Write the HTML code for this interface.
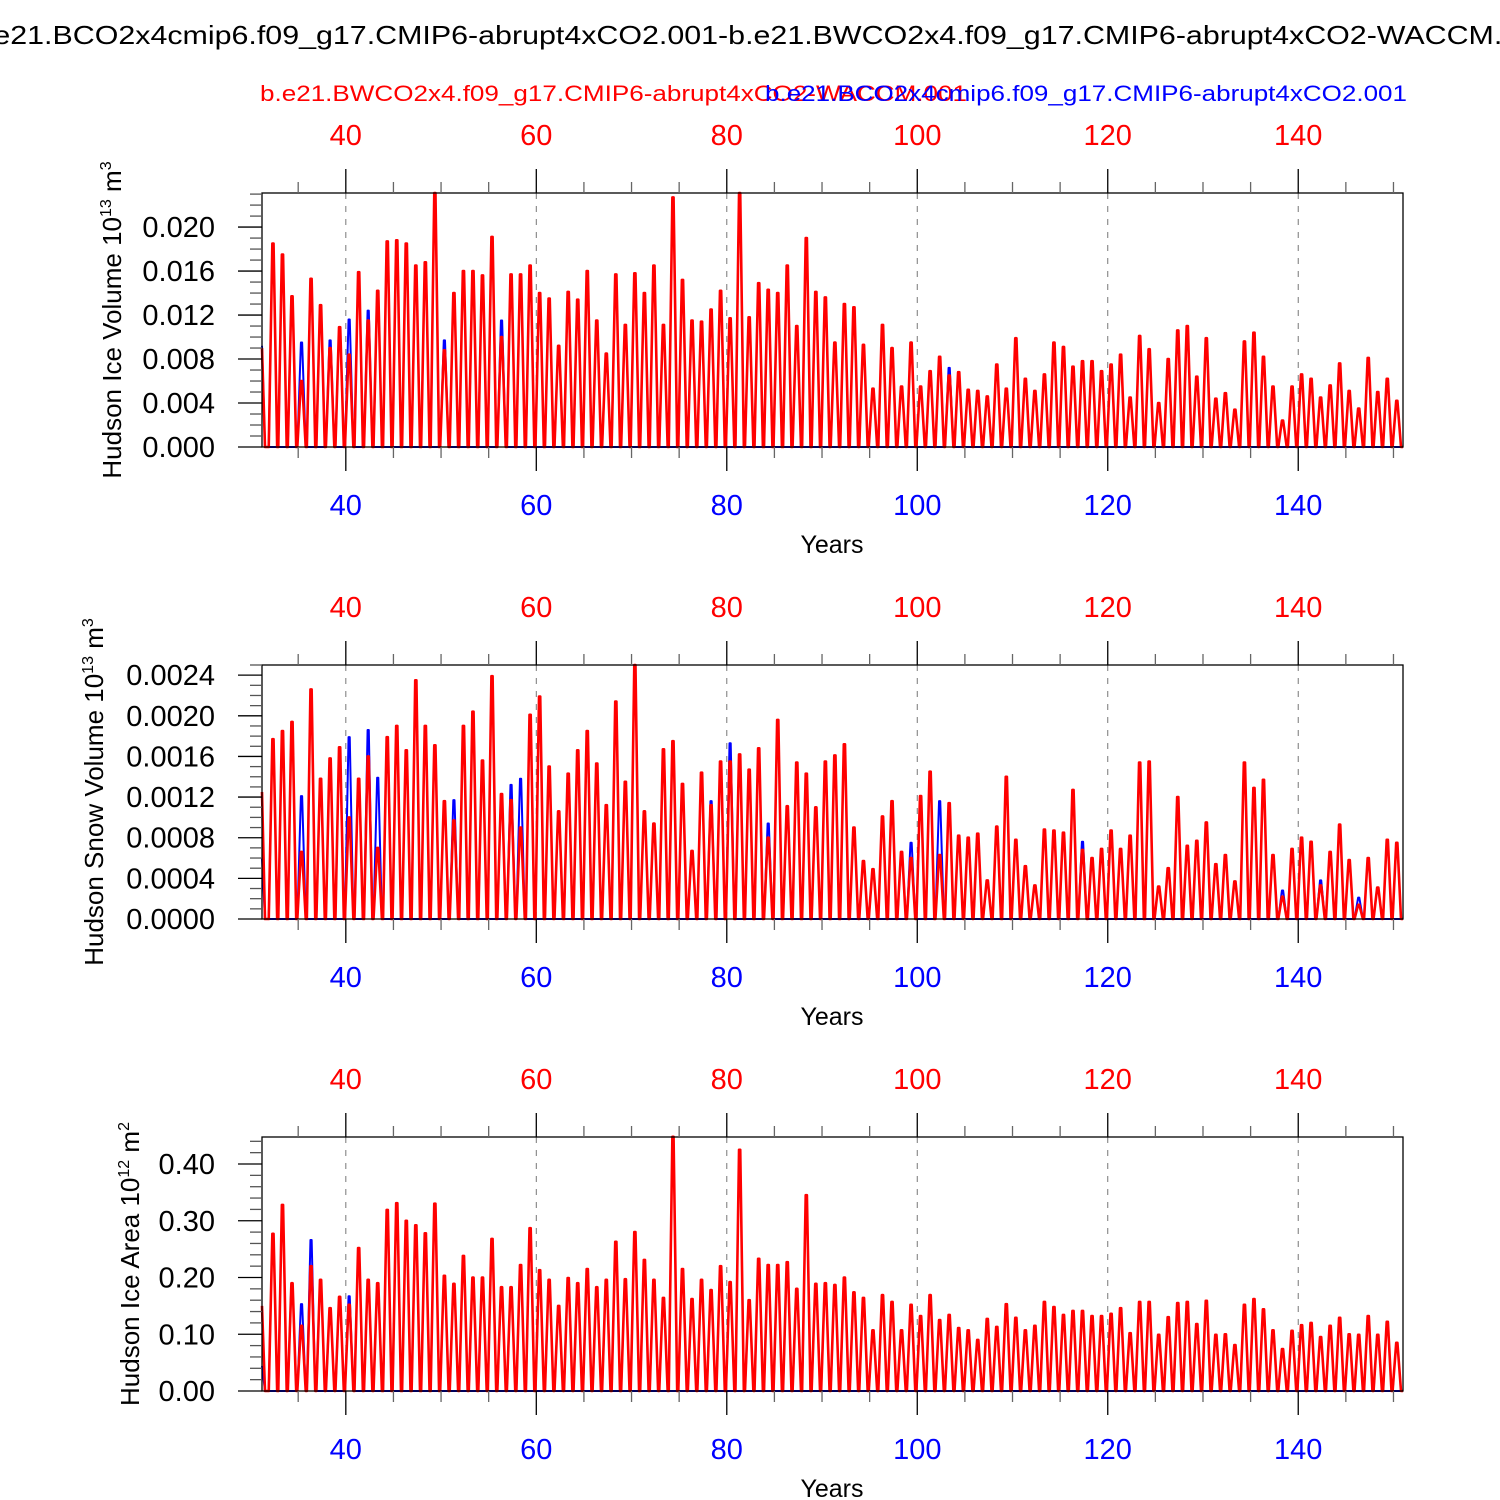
<!DOCTYPE html>
<html><head><meta charset="utf-8"><style>
html,body{margin:0;padding:0;background:#fff;}
svg{display:block;font-family:"Liberation Sans",sans-serif;}
</style></head><body>
<svg id="chart" width="1500" height="1500" viewBox="0 0 1500 1500">
<text x="-32" y="44" font-size="26" textLength="1585" lengthAdjust="spacingAndGlyphs">b.e21.BCO2x4cmip6.f09_g17.CMIP6-abrupt4xCO2.001-b.e21.BWCO2x4.f09_g17.CMIP6-abrupt4xCO2-WACCM.001</text>
<text x="260" y="101" font-size="22" fill="#f00" textLength="707" lengthAdjust="spacingAndGlyphs">b.e21.BWCO2x4.f09_g17.CMIP6-abrupt4xCO2-WACCM.001</text>
<text x="765" y="101" font-size="22" fill="#00f" textLength="642" lengthAdjust="spacingAndGlyphs">b.e21.BCO2x4cmip6.f09_g17.CMIP6-abrupt4xCO2.001</text>
</svg>
<script>
const xTicks = [40, 60, 80, 100, 120, 140];
const yearStart = 31.2, yearEnd = 151.0, firstPeakYear = 32.35;
const iceVolRed = [0.0185,0.0175,0.0137,0.006,0.0153,0.0129,0.009,0.0109,0.0084,0.0159,0.0115,0.0142,0.0187,0.0188,0.0185,0.0165,0.0168,0.0231,0.0088,0.014,0.016,0.016,0.0156,0.0191,0.010,0.0157,0.0157,0.0165,0.014,0.0135,0.0092,0.0141,0.0134,0.016,0.0115,0.0085,0.0157,0.0111,0.0158,0.014,0.0165,0.0111,0.0227,0.0152,0.0115,0.0114,0.0125,0.0142,0.0117,0.0231,0.0118,0.0149,0.0143,0.014,0.0165,0.011,0.019,0.0141,0.0136,0.0095,0.013,0.0127,0.0093,0.0053,0.0111,0.009,0.0055,0.0095,0.0055,0.0069,0.0082,0.0065,0.0068,0.0052,0.0051,0.0046,0.0075,0.0053,0.0099,0.0062,0.0051,0.0066,0.0095,0.0091,0.0073,0.0078,0.0078,0.0069,0.0075,0.0084,0.0045,0.0101,0.0089,0.004,0.008,0.0106,0.011,0.0064,0.0099,0.0044,0.0049,0.0034,0.0096,0.0104,0.0082,0.0055,0.0024,0.0055,0.0066,0.0062,0.0045,0.0056,0.0076,0.0051,0.0035,0.0081,0.005,0.0062,0.0042];
const iceVolBlue = [0.007,0.006,0.008,0.0095,0.007,0.006,0.0097,0.006,0.0116,0.007,0.0124,0.006,0.007,0.006,0.006,0.005,0.006,0.007,0.0097,0.005,0.005,0.006,0.005,0.006,0.0115,0.005,0.005,0.006,0.005,0.004,0.004,0.005,0.004,0.005,0.004,0.004,0.005,0.004,0.005,0.004,0.006,0.004,0.005,0.004,0.003,0.003,0.004,0.004,0.004,0.005,0.004,0.004,0.004,0.004,0.0045,0.003,0.006,0.003,0.003,0.003,0.003,0.003,0.002,0.002,0.003,0.003,0.002,0.003,0.002,0.0025,0.003,0.0072,0.002,0.0015,0.0015,0.0015,0.002,0.0015,0.002,0.0015,0.0015,0.0015,0.002,0.002,0.001,0.001,0.0015,0.0015,0.0015,0.002,0.001,0.0023,0.0015,0.001,0.0015,0.001,0.001,0.0008,0.0008,0.0008,0.0008,0.0008,0.0015,0.0015,0.0008,0.0008,0.0008,0.0015,0.0014,0.001,0.0012,0.001,0.0015,0.001,0.001,0.0015,0.0008,0.0008,0.0008];
const snowVolRed = [0.00177,0.00185,0.00194,0.00066,0.00226,0.00138,0.00158,0.00169,0.001,0.00138,0.0016,0.0007,0.00179,0.0019,0.00166,0.00235,0.0019,0.00171,0.00116,0.00097,0.0019,0.00204,0.00156,0.00239,0.00123,0.00117,0.0009,0.00201,0.00219,0.0015,0.00106,0.00143,0.00166,0.00185,0.00153,0.00112,0.00214,0.00135,0.0025,0.00106,0.00094,0.00167,0.00175,0.00133,0.00067,0.00144,0.00112,0.00155,0.00155,0.00162,0.00147,0.00168,0.0008,0.00196,0.00111,0.00154,0.00143,0.0011,0.00155,0.00161,0.00172,0.0009,0.00057,0.00049,0.00101,0.00116,0.00066,0.0006,0.00121,0.00145,0.00063,0.00114,0.00082,0.0008,0.00084,0.00038,0.00091,0.0014,0.00078,0.00052,0.00033,0.00088,0.00087,0.00085,0.00127,0.00068,0.0006,0.00069,0.00087,0.00069,0.00082,0.00154,0.00155,0.00032,0.0005,0.0012,0.00072,0.00077,0.00095,0.00054,0.00063,0.00037,0.00154,0.00129,0.00137,0.00063,0.00022,0.00069,0.0008,0.00076,0.00033,0.00066,0.00093,0.00058,0.00014,0.0006,0.00031,0.00078,0.00075];
const snowVolBlue = [0.0008,0.0006,0.0005,0.00121,0.0009,0.0005,0.0007,0.0006,0.00179,0.0005,0.00186,0.00139,0.0005,0.0005,0.0004,0.0006,0.0005,0.0005,0.0004,0.00117,0.0005,0.0005,0.0004,0.0005,0.0004,0.00132,0.00138,0.0005,0.0004,0.0004,0.0003,0.0004,0.0004,0.0005,0.0004,0.0003,0.0005,0.0004,0.0005,0.0003,0.0003,0.0004,0.0005,0.0004,0.0003,0.0004,0.00116,0.0004,0.00173,0.0004,0.0004,0.0004,0.00094,0.0004,0.0003,0.0004,0.0004,0.0003,0.0003,0.0003,0.0003,0.0002,0.0002,0.0002,0.0002,0.0003,0.0002,0.00075,0.0002,0.0002,0.00116,0.0002,0.0002,0.0002,0.0002,0.0001,0.0002,0.0002,0.0002,0.0001,0.0001,0.0002,0.0002,0.0002,0.0002,0.00076,0.0001,0.0001,0.0002,0.0001,0.0002,0.0002,0.0002,0.0001,0.0001,0.0002,0.0001,0.0002,0.0002,0.0001,0.0001,0.0001,0.0002,0.0002,0.0002,0.0001,0.00028,0.0002,0.0002,0.0002,0.00038,0.0001,0.0002,0.0001,0.00021,0.0001,0.0001,0.0002,0.0002];
const iceAreaRed = [0.277,0.328,0.19,0.115,0.22,0.196,0.146,0.166,0.152,0.252,0.196,0.19,0.319,0.331,0.3,0.292,0.278,0.33,0.203,0.189,0.238,0.2,0.2,0.268,0.183,0.183,0.222,0.287,0.213,0.196,0.15,0.199,0.19,0.215,0.183,0.196,0.263,0.197,0.28,0.231,0.196,0.164,0.448,0.215,0.162,0.196,0.178,0.22,0.192,0.425,0.16,0.233,0.222,0.222,0.227,0.18,0.345,0.189,0.19,0.187,0.2,0.174,0.164,0.107,0.169,0.157,0.107,0.152,0.132,0.169,0.125,0.134,0.111,0.107,0.09,0.127,0.113,0.153,0.129,0.107,0.115,0.157,0.148,0.134,0.141,0.141,0.132,0.132,0.136,0.146,0.102,0.157,0.157,0.099,0.13,0.155,0.157,0.118,0.159,0.099,0.1,0.081,0.152,0.162,0.144,0.107,0.074,0.106,0.116,0.12,0.095,0.115,0.129,0.1,0.099,0.132,0.099,0.122,0.085];
const iceAreaBlue = [0.12,0.12,0.18,0.153,0.266,0.1,0.09,0.1,0.167,0.12,0.11,0.1,0.12,0.12,0.12,0.11,0.11,0.12,0.1,0.1,0.1,0.1,0.1,0.11,0.1,0.1,0.1,0.11,0.1,0.1,0.08,0.1,0.09,0.1,0.09,0.09,0.1,0.09,0.1,0.09,0.1,0.08,0.105,0.1,0.08,0.09,0.08,0.1,0.08,0.11,0.08,0.09,0.09,0.09,0.1,0.08,0.11,0.08,0.08,0.08,0.08,0.07,0.07,0.05,0.07,0.06,0.05,0.06,0.05,0.06,0.05,0.06,0.05,0.05,0.04,0.05,0.05,0.06,0.05,0.04,0.04,0.06,0.06,0.05,0.05,0.05,0.05,0.05,0.05,0.05,0.04,0.05,0.05,0.04,0.05,0.05,0.05,0.04,0.05,0.04,0.04,0.03,0.05,0.06,0.05,0.04,0.03,0.04,0.04,0.05,0.04,0.04,0.05,0.04,0.04,0.06,0.04,0.05,0.03];
const startRed = [0.009, 0.00125, 0.15];
const startBlue = [0.0092, 0.0006, 0.044];
const yTicks1 = ["0.000","0.004","0.008","0.012","0.016","0.020"];
const yTicks2 = ["0.0000","0.0004","0.0008","0.0012","0.0016","0.0020","0.0024"];
const yTicks3 = ["0.00","0.10","0.20","0.30","0.40"];

const NS = "http://www.w3.org/2000/svg";
const svg = document.getElementById('chart');
function mk(tag, attrs, parent) {
  const e = document.createElementNS(NS, tag);
  for (const k in attrs) e.setAttribute(k, attrs[k]);
  (parent || svg).appendChild(e);
  return e;
}
const X0 = 262, X1 = 1403;
function xs(yr) { return X0 + (yr - yearStart) / (yearEnd - yearStart) * (X1 - X0); }

const panels = [
  {top:193, bot:447, ymax:0.0231, ticks:yTicks1, minor:0.001, red:iceVolRed, blue:iceVolBlue, label:"Hudson Ice Volume 10", sup:"13", unit:" m", usup:"3", lx:121, name:"ice-volume"},
  {top:665, bot:919, ymax:0.00250, ticks:yTicks2, minor:0.0001, red:snowVolRed, blue:snowVolBlue, label:"Hudson Snow Volume 10", sup:"13", unit:" m", usup:"3", lx:103, name:"snow-volume"},
  {top:1137, bot:1391, ymax:0.4476, ticks:yTicks3, minor:0.02, red:iceAreaRed, blue:iceAreaBlue, label:"Hudson Ice Area 10", sup:"12", unit:" m", usup:"2", lx:139, name:"ice-area"}
];

panels.forEach((p, pi) => {
  const g = mk('g', {});
  
  
  const ys = v => p.bot - v / p.ymax * (p.bot - p.top);
  xTicks.forEach(t => {
    const l = mk('line', {x1:xs(t), x2:xs(t), y1:p.top, y2:p.bot, stroke:'#777', 'stroke-width':1, 'stroke-dasharray':'6,7'}, g);
    
    
  });
  function series(arr, start, color, w, nm, ref) {
    let d = 'M' + X0 + ',' + ys(start) + ' L' + (X0 + 3) + ',' + ys(0);
    arr.forEach((v, k) => {
      const cx = xs(firstPeakYear + k);
      if (ref && v < ref[k]) {
        const f = v / ref[k];
        d += ' L' + (cx - 4.2) + ',' + ys(0) + ' L' + (cx - 4.2 + 3.6 * f) + ',' + ys(v) + ' L' + (cx - 4.2) + ',' + ys(0) + ' L' + (cx + 4.2) + ',' + ys(0);
      } else {
        d += ' L' + (cx - 4.2) + ',' + ys(0) + ' L' + (cx - 0.6) + ',' + ys(v) + ' L' + (cx + 0.6) + ',' + ys(v) + ' L' + (cx + 4.2) + ',' + ys(0);
      }
    });
    d += ' L' + X1 + ',' + ys(0);
    const path = mk('path', {d:d, fill:'none', stroke:color, 'stroke-width':w, 'stroke-linejoin':'round'}, g);
    
    
  }
  series(p.blue, startBlue[pi], '#00f', 2.0, p.name + '-blue-line', p.red);
  series(p.red, startRed[pi], '#f00', 2.6, p.name + '-red-line', null);
  const fr = mk('rect', {x:X0, y:p.top, width:X1 - X0, height:p.bot - p.top, fill:'none', stroke:'#000', 'stroke-width':1.3}, g);
  
  
  const step = parseFloat(p.ticks[1]);
  for (let v = 0; v <= p.ymax + 1e-12; v += p.minor) {
    const isMaj = Math.abs(v / step - Math.round(v / step)) < 1e-6;
    mk('line', {x1:X0 - (isMaj ? 24 : 12), x2:X0, y1:ys(v), y2:ys(v), stroke:isMaj ? '#000' : '#555', 'stroke-width':1.3}, g);
  }
  p.ticks.forEach(t => {
    const tx = mk('text', {x:215, y:ys(parseFloat(t)) + 10, 'font-size':29, 'text-anchor':'end'}, g);
    tx.textContent = t;
    
    
  });
  for (let yr = 35; yr <= 150; yr += 5) {
    const maj = yr % 20 === 0;
    const L = maj ? 24 : 11;
    mk('line', {x1:xs(yr), x2:xs(yr), y1:p.bot, y2:p.bot + L, stroke:maj ? '#000' : '#666', 'stroke-width':1.3}, g);
    mk('line', {x1:xs(yr), x2:xs(yr), y1:p.top, y2:p.top - L, stroke:maj ? '#000' : '#666', 'stroke-width':1.3}, g);
  }
  xTicks.forEach(t => {
    const tb = mk('text', {x:xs(t), y:p.bot + 68, 'font-size':29, 'text-anchor':'middle', fill:'#00f'}, g);
    tb.textContent = t;
    
    
    const tt = mk('text', {x:xs(t), y:p.top - 48, 'font-size':29, 'text-anchor':'middle', fill:'#f00'}, g);
    tt.textContent = t;
    
    
  });
  const xt = mk('text', {x:832, y:p.bot + 106, 'font-size':25, 'text-anchor':'middle'}, g);
  xt.textContent = 'Years';
  
  
  const cy = (p.top + p.bot) / 2;
  const yt = mk('text', {x:0, y:0, 'font-size':26, 'text-anchor':'middle', transform:'translate(' + p.lx + ',' + cy + ') rotate(-90)'}, g);
  
  
  const t1 = mk('tspan', {}, yt); t1.textContent = p.label;
  const t2 = mk('tspan', {dy:-10, 'font-size':16}, yt); t2.textContent = p.sup;
  const t3 = mk('tspan', {dy:10}, yt); t3.textContent = p.unit;
  const t4 = mk('tspan', {dy:-10, 'font-size':16}, yt); t4.textContent = p.usup;
});
</script>
</body></html>
